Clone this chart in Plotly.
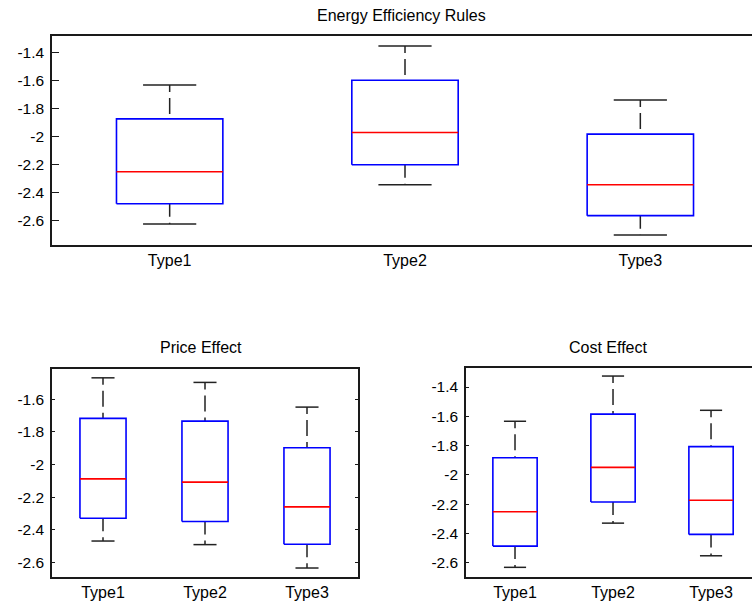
import plotly.graph_objects as go

W, H = 752, 608

categories = ["Type1", "Type2", "Type3"]

# Energy Efficiency Rules
eer_upper = [-1.631, -1.352, -1.738]
eer_q3 = [-1.874, -1.597, -1.983]
eer_median = [-2.252, -1.971, -2.345]
eer_q1 = [-2.481, -2.202, -2.566]
eer_lower = [-2.626, -2.345, -2.704]

# Price Effect
pe_upper = [-1.470, -1.498, -1.649]
pe_q3 = [-1.718, -1.735, -1.898]
pe_median = [-2.088, -2.108, -2.259]
pe_q1 = [-2.329, -2.349, -2.488]
pe_lower = [-2.468, -2.490, -2.633]

# Cost Effect
ce_upper = [-1.634, -1.325, -1.559]
ce_q3 = [-1.883, -1.585, -1.807]
ce_median = [-2.252, -1.949, -2.174]
ce_q1 = [-2.487, -2.186, -2.407]
ce_lower = [-2.632, -2.330, -2.553]

top_ticks = [-2.6, -2.4, -2.2, -2.0, -1.8, -1.6, -1.4]
top_ticktext = ["-2.6", "-2.4", "-2.2", "-2", "-1.8", "-1.6", "-1.4"]
pe_ticks = [-2.6, -2.4, -2.2, -2.0, -1.8, -1.6]
pe_ticktext = ["-2.6", "-2.4", "-2.2", "-2", "-1.8", "-1.6"]
ce_ticks = top_ticks
ce_ticktext = top_ticktext

BOX_HALF = 0.226
CAP_HALF = 0.113
FONT = "Liberation Sans, Arial, sans-serif"


def px_x(p):
    return p / W


def px_y(p):
    return 1 - p / H


fig = go.Figure()


def add_boxes(xa, ya, upper, q3, med, q1, lower):
    bx, by, mx, my, ux, uy, lx, ly, cx, cy = [], [], [], [], [], [], [], [], [], []
    for i in range(len(categories)):
        x = i + 1
        bx += [x - BOX_HALF, x + BOX_HALF, x + BOX_HALF, x - BOX_HALF, x - BOX_HALF, None]
        by += [q1[i], q1[i], q3[i], q3[i], q1[i], None]
        mx += [x - BOX_HALF, x + BOX_HALF, None]
        my += [med[i], med[i], None]
        ux += [x, x, None]
        uy += [upper[i], q3[i], None]
        lx += [x, x, None]
        ly += [q1[i], lower[i], None]
        cx += [x - CAP_HALF, x + CAP_HALF, None, x - CAP_HALF, x + CAP_HALF, None]
        cy += [upper[i], upper[i], None, lower[i], lower[i], None]
    common = dict(xaxis=xa, yaxis=ya, mode="lines", showlegend=False, hoverinfo="skip")
    fig.add_trace(go.Scatter(x=ux, y=uy, line=dict(color="#222222", width=1.5, dash="7px,6px,16px,6px"), **common))
    fig.add_trace(go.Scatter(x=lx, y=ly, line=dict(color="#222222", width=1.5, dash="13px,6px"), **common))
    fig.add_trace(go.Scatter(x=cx, y=cy, line=dict(color="#222222", width=1.5), **common))
    fig.add_trace(go.Scatter(x=bx, y=by, line=dict(color="#0000ff", width=1.6), **common))
    fig.add_trace(go.Scatter(x=mx, y=my, line=dict(color="#ff0000", width=1.6), **common))


add_boxes("x", "y", eer_upper, eer_q3, eer_median, eer_q1, eer_lower)
add_boxes("x2", "y2", pe_upper, pe_q3, pe_median, pe_q1, pe_lower)
add_boxes("x3", "y3", ce_upper, ce_q3, ce_median, ce_q1, ce_lower)

xtick_font = dict(family=FONT, size=16, color="black")
ytick_font = dict(family=FONT, size=15.5, color="black")
line_style = dict(showline=True, linecolor="#1a1a1a", linewidth=1.6, showgrid=False, zeroline=False)


def xaxis(domain, rng, anchor):
    return dict(domain=domain, range=rng, anchor=anchor, tickvals=[1, 2, 3], ticktext=categories,
                ticks="", mirror=True, tickfont=xtick_font, fixedrange=True, **line_style)


def yaxis(domain, rng, anchor, tv, tt, ticklen, mirror):
    return dict(domain=domain, range=rng, anchor=anchor, tickvals=tv, ticktext=tt, ticks="inside",
                ticklen=ticklen, tickwidth=1.3, tickcolor="#1a1a1a", mirror=mirror, tickfont=ytick_font,
                fixedrange=True, ticklabelstandoff=3, **line_style)


fig.update_layout(
    width=W, height=H,
    margin=dict(l=0, r=0, t=0, b=0),
    paper_bgcolor="white", plot_bgcolor="white",
    font=dict(family=FONT, size=15, color="black"),
    xaxis=xaxis([px_x(52), 1.0], [0.5, 3.4745], "y"),
    yaxis=yaxis([px_y(245), px_y(36)], [-2.776, -1.281], "x", top_ticks, top_ticktext, 7, False),
    xaxis2=xaxis([px_x(52), px_x(358)], [0.5, 3.5], "y2"),
    yaxis2=yaxis([px_y(577), px_y(369)], [-2.688, -1.416], "x2", pe_ticks, pe_ticktext, 3, "ticks"),
    xaxis3=xaxis([px_x(466), 1.0], [0.5, 3.418], "y3"),
    yaxis3=yaxis([px_y(577), px_y(368)], [-2.698, -1.270], "x3", ce_ticks, ce_ticktext, 3, False),
    yaxis4=dict(overlaying="y", side="right", anchor="x", range=[-2.776, -1.281], tickvals=top_ticks,
                ticks="inside", ticklen=2, tickwidth=1.3, tickcolor="#1a1a1a", showticklabels=False,
                showline=False, showgrid=False, zeroline=False, fixedrange=True),
)

titles = [("Energy Efficiency Rules", 401, 16), ("Price Effect", 201, 348), ("Cost Effect", 608, 348)]
for text, cx, cy in titles:
    fig.add_annotation(text=text, x=px_x(cx), y=px_y(cy), xref="paper", yref="paper",
                       showarrow=False, xanchor="center", yanchor="middle",
                       font=dict(family=FONT, size=16, color="black"))

fig.write_html("out.html", config={"displayModeBar": False},
               post_script="document.body.style.margin='0';document.body.style.overflow='hidden';")
